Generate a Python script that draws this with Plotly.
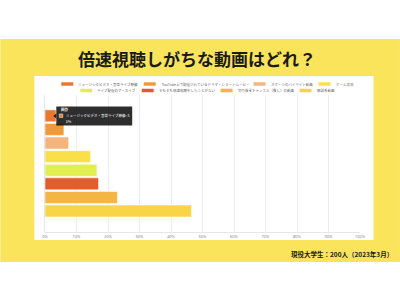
import plotly.graph_objects as go

# ---- data ----
categories = [
    "ミュージックビデオ・音楽ライブ映像",
    "YouTube上で配信されているドラマ・ショートムービー",
    "スポーツのハイライト動画",
    "ゲーム実況",
    "ライブ配信のアーカイブ",
    "そもそも倍速視聴をしたことがない",
    "切り抜きチャンネル（推し）の動画",
    "解説系動画",
]
values = [3.5, 6, 7.5, 14.5, 16.5, 17, 23, 46.5]
colors = ["#E8782F", "#F0993A", "#F3B47E", "#F9E04B",
          "#E3EE4F", "#E35D2B", "#F3B544", "#F8D548"]
tick_vals = [0, 10, 20, 30, 40, 50, 60, 70, 80, 90, 100]
tick_text = [f"{v}%" for v in tick_vals]
title_text = "倍速視聴しがちな動画はどれ？"
footer_text = "現役大学生：200人（2023年3月）"
tooltip_title = "回答"

# ---- layout geometry (pixels) ----
WID, HEI = 400, 300
L, R, T, B = 44.7, 40, 95, 68
PW, PH = WID - L - R, HEI - T - B
JP = "Noto Sans CJK JP"


def px(x):
    return (x - L) / PW


def py(y):
    return (HEI - B - y) / PH


fig = go.Figure()
for i, (c, v, col) in enumerate(zip(categories, values, colors)):
    fig.add_trace(go.Bar(
        x=[v], y=[i], orientation="h", name=c, width=0.88,
        marker=dict(color=col, line=dict(color="rgba(255,255,255,0.55)", width=1)),
        showlegend=False, hoverinfo="skip",
    ))

shapes = [
    dict(type="rect", xref="paper", yref="paper", x0=px(0), x1=px(400),
         y0=py(262), y1=py(39), fillcolor="#F9E45C", line=dict(width=0), layer="below"),
    dict(type="rect", xref="paper", yref="paper", x0=px(34), x1=px(373.5),
         y0=py(240), y1=py(76), fillcolor="white", line=dict(width=0), layer="below"),
]
annotations = [
    dict(text=f"<b>{title_text}</b>", x=px(197), y=py(58), xref="paper", yref="paper",
         showarrow=False, xanchor="center", yanchor="middle",
         font=dict(family=JP, size=17, color="#1a1a1a")),
    dict(text=f"<b>{footer_text}</b>", x=px(395), y=py(254), xref="paper", yref="paper",
         showarrow=False, xanchor="right", yanchor="middle",
         font=dict(family=JP, size=6.5, color="#1a1a1a")),
]

# ---- manual legend (two centered rows) ----
FS = 3.5
SW, SH, SP, GAP = 12, 3.5, 3, 8


def tw(s):
    w = 0
    for ch in s:
        w += 0.55 if ord(ch) < 0x2000 else 1.0
    return w * FS


rows = [(list(range(0, 4)), 84), (list(range(4, 8)), 90.5)]
CX = 206
for idxs, yy in rows:
    widths = [SW + SP + tw(categories[k]) for k in idxs]
    total = sum(widths) + GAP * (len(idxs) - 1)
    x = CX - total / 2
    for k, w in zip(idxs, widths):
        shapes.append(dict(type="rect", xref="paper", yref="paper",
                           x0=px(x), x1=px(x + SW), y0=py(yy + SH / 2), y1=py(yy - SH / 2),
                           fillcolor=colors[k], line=dict(width=0)))
        annotations.append(dict(text=categories[k], x=px(x + SW + SP), y=py(yy),
                                xref="paper", yref="paper", showarrow=False,
                                xanchor="left", yanchor="middle",
                                font=dict(family=JP, size=FS, color="#666666")))
        x += w + GAP

# ---- tooltip on first bar ----
tx0, tx1, ty0, ty1 = 56, 132, 106.5, 125.5
shapes.append(dict(type="rect", xref="paper", yref="paper", x0=px(tx0), x1=px(tx1),
                   y0=py(ty1), y1=py(ty0), fillcolor="rgba(0,0,0,0.82)", line=dict(width=0)))
shapes.append(dict(type="path", xref="paper", yref="paper",
                   path=f"M {px(tx0)} {py(113.5)} L {px(53)} {py(116)} L {px(tx0)} {py(118.5)} Z",
                   fillcolor="rgba(0,0,0,0.82)", line=dict(width=0)))
shapes.append(dict(type="rect", xref="paper", yref="paper", x0=px(59), x1=px(62.5),
                   y0=py(117.5), y1=py(114), fillcolor=colors[0],
                   line=dict(color="white", width=0.5)))
v0 = f"{values[0]}%"
annotations += [
    dict(text=f"<b>{tooltip_title}</b>", x=px(59), y=py(109.8), xref="paper", yref="paper",
         showarrow=False, xanchor="left", yanchor="middle",
         font=dict(family=JP, size=FS, color="white")),
    dict(text=f"{categories[0]}: {v0[:2]}", x=px(64), y=py(115.8), xref="paper", yref="paper",
         showarrow=False, xanchor="left", yanchor="middle",
         font=dict(family=JP, size=FS, color="white")),
    dict(text=v0[2:], x=px(64), y=py(121.3), xref="paper", yref="paper",
         showarrow=False, xanchor="left", yanchor="middle",
         font=dict(family=JP, size=FS, color="white")),
]

fig.update_layout(
    width=WID, height=HEI, autosize=False,
    margin=dict(l=L, r=R, t=T, b=B, pad=0),
    paper_bgcolor="white", plot_bgcolor="rgba(0,0,0,0)",
    barmode="overlay", showlegend=False,
    shapes=shapes, annotations=annotations,
    xaxis=dict(range=[0, 100], tickvals=tick_vals, ticktext=tick_text,
               showgrid=True, gridcolor="#EDEDED", gridwidth=0.7, zeroline=False,
               showline=True, linecolor="#E6E6E6", linewidth=0.7,
               tickfont=dict(family="Noto Sans", size=4, color="#888888"),
               ticks="", fixedrange=True),
    yaxis=dict(range=[8.54, -1.53], showticklabels=False, showgrid=False,
               zeroline=False, showline=True, linecolor="#E6E6E6", linewidth=0.7,
               fixedrange=True),
    hovermode=False,
)

fig.write_html("out.html", config={"displayModeBar": False})
